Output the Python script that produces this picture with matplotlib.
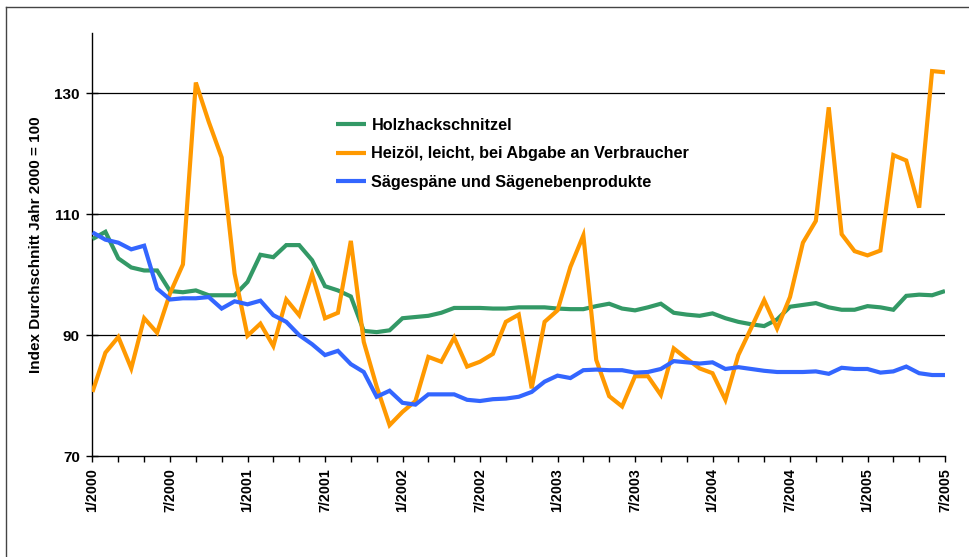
import numpy as np
import matplotlib
matplotlib.use("Agg")
import matplotlib.pyplot as plt
from matplotlib.lines import Line2D

plt.rcParams['font.family'] = ['Liberation Sans', 'DejaVu Sans']
plt.rcParams['font.weight'] = 'bold'

tick_labels = ["1/2000", "7/2000", "1/2001", "7/2001", "1/2002", "7/2002",
               "1/2003", "7/2003", "1/2004", "7/2004", "1/2005", "7/2005"]

series_names = ["Holzhackschnitzel",
                "Heizöl, leicht, bei Abgabe an Verbraucher",
                "Sägespäne und Sägenebenprodukte"]

holz = [105.9, 107.1, 102.7, 101.2, 100.7, 100.7, 97.3, 97.1, 97.4, 96.6,
        96.6, 96.6, 98.8, 103.3, 102.9, 104.9, 104.9, 102.4, 98.1, 97.4,
        96.4, 90.7, 90.5, 90.8, 92.8, 93.0, 93.2, 93.7, 94.5, 94.5,
        94.5, 94.4, 94.4, 94.6, 94.6, 94.6, 94.4, 94.3, 94.3, 94.8,
        95.2, 94.4, 94.1, 94.6, 95.2, 93.7, 93.4, 93.2, 93.6, 92.8,
        92.2, 91.8, 91.5, 92.6, 94.7, 95.0, 95.3, 94.6, 94.2, 94.2,
        94.8, 94.6, 94.2, 96.5, 96.7, 96.6, 97.3]

heizoel = [80.6, 87.1, 89.7, 84.5, 92.8, 90.4, 96.9, 101.7, 131.8, 125.3,
           119.4, 100.2, 89.9, 91.9, 88.2, 95.9, 93.3, 100.1, 92.8, 93.7,
           105.6, 88.9, 81.5, 75.1, 77.3, 79.1, 86.4, 85.6, 89.6, 84.8,
           85.6, 86.9, 92.2, 93.4, 81.2, 92.2, 94.1, 101.3, 106.5, 85.9,
           79.9, 78.2, 83.2, 83.2, 80.1, 87.8, 86.1, 84.5, 83.7, 79.3,
           86.7, 91.2, 95.8, 91.1, 96.3, 105.3, 108.9, 127.7, 106.7, 103.9,
           103.2, 104.0, 119.8, 118.9, 111.1, 133.7, 133.5]

saege = [107.0, 105.8, 105.3, 104.2, 104.8, 97.7, 95.9, 96.1, 96.1, 96.3,
         94.4, 95.6, 95.1, 95.7, 93.3, 92.2, 90.0, 88.5, 86.7, 87.4,
         85.2, 83.9, 79.8, 80.8, 78.8, 78.5, 80.2, 80.2, 80.2, 79.3,
         79.1, 79.4, 79.5, 79.8, 80.6, 82.3, 83.3, 82.9, 84.2, 84.3,
         84.2, 84.2, 83.8, 83.9, 84.4, 85.7, 85.5, 85.3, 85.5, 84.4,
         84.7, 84.4, 84.1, 83.9, 83.9, 83.9, 84.0, 83.6, 84.6, 84.4,
         84.4, 83.8, 84.0, 84.8, 83.7, 83.4, 83.4]

colors = ["#339966", "#FF9900", "#3366FF"]

W, H = 970, 557
fig = plt.figure(figsize=(W / 100, H / 100), dpi=100)
ax = fig.add_axes([92.5 / W, 1 - 456 / H, (945 - 92.5) / W, (456 - 33) / H])

x = np.arange(len(holz))
lw = 3.0
for ys, c, name in zip([holz, heizoel, saege], colors, series_names):
    ax.plot(x, ys, color=c, lw=lw, label=name, solid_joinstyle='miter',
            solid_capstyle='butt', zorder=3)

ax.set_xlim(0, len(holz) - 1)
ax.set_ylim(70, 140)

# grid
for gy in [90, 110, 130]:
    ax.axhline(gy, color='black', lw=0.9, zorder=1)

ax.spines['top'].set_visible(False)
ax.spines['right'].set_visible(False)
ax.spines['left'].set_linewidth(1.0)
ax.spines['bottom'].set_linewidth(1.0)

ax.set_yticks([70, 90, 110, 130])
ax.set_yticklabels(["70", "90", "110", "130"], fontsize=11, fontweight='bold')
ax.tick_params(axis='y', direction='inout', length=8, width=1.0, pad=5)

xt = np.arange(0, len(holz), 2)
ax.set_xticks(xt)
ax.set_xticklabels([tick_labels[i // 6] if i % 6 == 0 else "" for i in xt],
                   rotation=90, fontsize=10.3, fontweight='bold')
ax.tick_params(axis='x', direction='out', length=4.5, width=1.0, pad=4)

ax.set_ylabel("Index Durchschnitt Jahr 2000 = 100", fontsize=11,
              fontweight='bold', labelpad=8)

leg = ax.legend(loc='upper left',
                bbox_to_anchor=((336 - 92.5) / (945 - 92.5), (456 - 118) / (456 - 33)),
                frameon=False, borderpad=0, borderaxespad=0,
                handlelength=1.85, handletextpad=0.33, labelspacing=0.82,
                prop={'size': 11.7, 'weight': 'bold'})

# outer border (top and left visible in reference)
fig.add_artist(Line2D([6.5 / W, 1.0], [1 - 6.5 / H, 1 - 6.5 / H],
                      transform=fig.transFigure, color='#444444', lw=1.0))
fig.add_artist(Line2D([6.5 / W, 6.5 / W], [0.0, 1 - 6.5 / H],
                      transform=fig.transFigure, color='#444444', lw=1.0))

fig.savefig("out.png", dpi=100)
